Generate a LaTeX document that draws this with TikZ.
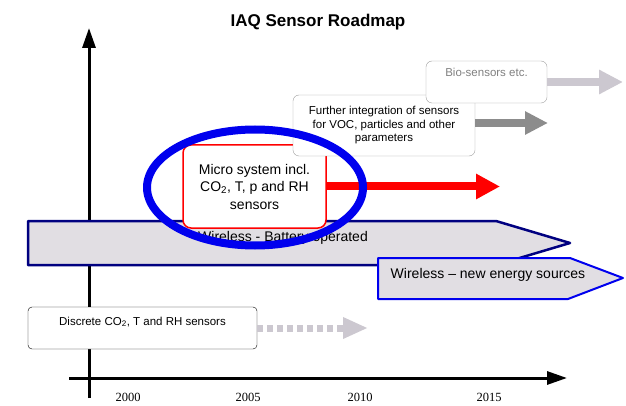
\documentclass[tikz,border=0pt]{standalone}
\usepackage{fontspec}
\setmainfont{Liberation Sans}
\newfontfamily\yearfont{Liberation Serif}
\usetikzlibrary{arrows.meta}
\definecolor{bandfill}{HTML}{E1DEE3}
\definecolor{navyline}{HTML}{000080}
\definecolor{ringblue}{HTML}{0000EE}
\definecolor{lightarrow}{HTML}{CCC8D0}
\definecolor{darkarrow}{HTML}{8C8C8C}
\begin{document}
\begin{tikzpicture}[x=1pt,y=-1pt,line join=round,
	box/.style={draw=gray!75,fill=white,rounded corners=6pt,align=center,inner sep=2pt,font=\fontsize{11.5}{13.5}\selectfont},
	fatarrow/.style={line width=8pt,-{Triangle[length=24pt,width=24pt]}},
	axis/.style={line width=3pt,-{Triangle[length=20pt,width=13pt]}},
	year/.style={font=\yearfont\fontsize{12.5}{14}\selectfont}]
	\useasboundingbox (0,0) rectangle (626,406);
	\path (623,82) coordinate (bioend)
		(548,123) coordinate (furtherend)
		(500,186.5) coordinate (microend)
		(368,328) coordinate (discend)
		(89,398) coordinate (ybot) (89,28) coordinate (ytop)
		(69,378) coordinate (xleft) (567,378) coordinate (xright);
	\node[font=\bfseries\fontsize{17}{20}\selectfont] (title) at (318,22) {IAQ Sensor Roadmap};
	% axes
	\draw[axis] (ybot) -- (ytop);
	\draw[axis] (xleft) -- (xright);
	\node[year] (y2000) at (128,397) {2000};
	\node[year] (y2005) at (248,397) {2005};
	\node[year] (y2010) at (360,397) {2010};
	\node[year] (y2015) at (489,397) {2015};
	% bands
	\draw[navyline,line width=2.5pt,fill=bandfill] (28,221) -- (496,221) -- (570,243) -- (496,265) -- (28,265) -- cycle;
	\node[font=\fontsize{14}{16}\selectfont] (battery) at (283,238) {Wireless - Battery operated};
	\draw[ringblue,line width=2pt,fill=bandfill] (378,258) -- (570,258) -- (623,278) -- (568,299) -- (378,299) -- cycle;
	\node[font=\fontsize{14}{16}\selectfont] (energy) at (488,275) {Wireless -- new energy sources};
	% boxes
	\node[box,draw=red,line width=1.5pt,rounded corners=8pt,minimum width=143pt,minimum height=83pt,font=\fontsize{14}{17.5}\selectfont] (micro) at (254.5,186.5) {Micro system incl.\\CO\textsubscript{2}, T, p and RH\\sensors};
	\draw[fatarrow,red] (micro.east) -- (microend);
	\node[box,minimum width=182pt,minimum height=61pt] (further) at (384,125.5) {Further integration of sensors\\for VOC, particles and other\\parameters};
	\draw[fatarrow,darkarrow,-{Triangle[length=23pt,width=22pt]}] (further.east |- furtherend) -- (furtherend);
	\node[box,minimum width=121pt,minimum height=42pt,text depth=20pt,text=gray] (bio) at (486.5,82) {Bio-sensors etc.};
	\draw[fatarrow,lightarrow,-{Triangle[length=24pt,width=23pt]}] (bio.east) -- (bioend);
	\draw[ringblue,line width=8pt] (255,187.5) ellipse [x radius=108,y radius=58];
	\node[box,draw=black,rounded corners=4pt,minimum width=229pt,minimum height=42pt,text depth=14pt] (discrete) at (142.5,328) {Discrete CO\textsubscript{2}, T and RH sensors};
	\draw[lightarrow,line width=7pt,dash pattern=on 6pt off 4pt,-{Triangle[length=25pt,width=20pt]}] (discrete.east) -- (discend);
\end{tikzpicture}
\end{document}
